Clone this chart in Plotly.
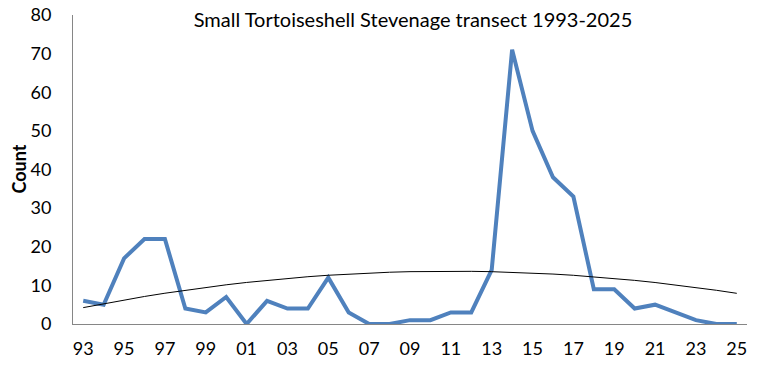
import numpy as np
import plotly.graph_objects as go

years = ["93","94","95","96","97","98","99","00","01","02","03","04","05","06","07","08",
         "09","10","11","12","13","14","15","16","17","18","19","20","21","22","23","24","25"]
counts = [6,5,17,22,22,4,3,7,0,6,4,4,12,3,0,0,
          1,1,3,3,14,71,50,38,33,9,9,4,5,3,1,0,0]
tick_labels = years[::2]
title_text = "Small Tortoiseshell Stevenage transect 1993-2025"
y_title = "Count"

idx = np.arange(len(years))
coef = np.polyfit(idx, counts, 2)
trend = np.polyval(coef, idx)

FONT = "Lato, 'Open Sans', sans-serif"
L, R, T, B = 73, 11, 15, 48
W, H = 758, 372

fig = go.Figure()
fig.add_trace(go.Scatter(x=years, y=counts, mode="lines",
                         line=dict(color="#4F81BD", width=4), showlegend=False))
fig.add_trace(go.Scatter(x=years, y=trend, mode="lines",
                         line=dict(color="#000000", width=1), showlegend=False))

fig.update_layout(
    width=W, height=H,
    margin=dict(l=L, r=R, t=T, b=B),
    paper_bgcolor="white", plot_bgcolor="white",
    font=dict(family=FONT, color="#000000"),
    title=dict(text=title_text, x=(413) / W, xanchor="center", y=1 - 20 / H, yanchor="middle",
               font=dict(size=20, family=FONT, color="#000")),
)
fig.add_annotation(text="<b>" + y_title + "</b>", xref="paper", yref="paper",
                   x=(18 - L) / (W - L - R), y=0.5, textangle=-90, showarrow=False,
                   xanchor="center", yanchor="middle", font=dict(size=18, family=FONT, color="#000"))
fig.update_xaxes(type="category", range=[-0.5, 32.5], tickvals=tick_labels, ticktext=tick_labels,
                 showline=True, linecolor="#868686", linewidth=1, showgrid=False, ticks="",
                 tickfont=dict(size=18), ticklabelstandoff=8, automargin=False)
fig.update_yaxes(range=[0, 80], dtick=10, showline=True, linecolor="#868686", linewidth=1,
                 showgrid=False, zeroline=False, ticks="", tickfont=dict(size=18),
                 ticklabelstandoff=17, automargin=False)

fig.write_html("out.html", config={"displayModeBar": False},
               post_script="document.body.style.margin='0';document.body.style.overflow='hidden';")
